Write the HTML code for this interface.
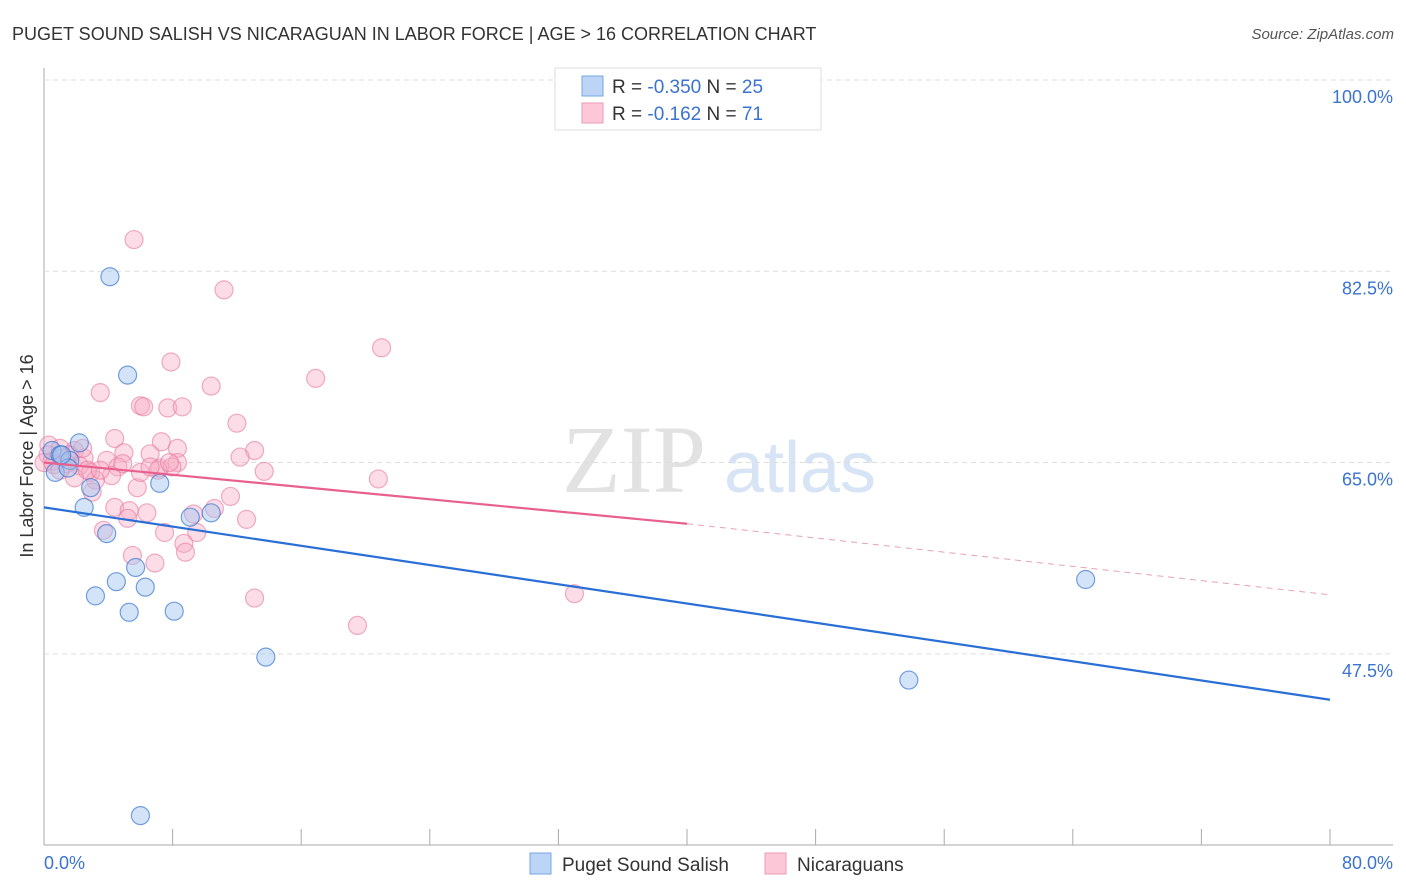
<!DOCTYPE html>
<html><head><meta charset="utf-8"><style>
body{margin:0;background:#fff;font-family:"Liberation Sans",sans-serif}
</style></head><body>
<svg id="c" width="1406" height="892" style="display:block">
<text x="12" y="40" font-size="18" fill="#333">PUGET SOUND SALISH VS NICARAGUAN IN LABOR FORCE | AGE &gt; 16 CORRELATION CHART</text>
<text x="1394" y="39" font-size="15" fill="#555" font-style="italic" text-anchor="end">Source: ZipAtlas.com</text>
<text x="634" y="492" font-size="96" fill="#e2e2e2" font-family="Liberation Serif,serif" text-anchor="middle">ZIP</text>
<text x="800" y="492" font-size="72" fill="#d6e4f5" text-anchor="middle">atlas</text>
<g id="grid"></g><g id="marks"></g>
<text transform="translate(33,456) rotate(-90)" font-size="18" fill="#333" text-anchor="middle">In Labor Force | Age &gt; 16</text>
<text x="44" y="869" font-size="18" fill="#3a73d0">0.0%</text>
<text x="1393" y="869" font-size="18" fill="#3a73d0" text-anchor="end">80.0%</text>
<g>
<rect x="555" y="68" width="266" height="62" fill="#fff" stroke="#ddd"/>
<rect x="582" y="76" width="21" height="20" fill="#bcd4f5" stroke="#7aa6e6"/>
<rect x="582" y="103" width="21" height="20" fill="#fcc8d8" stroke="#ee9ab5"/>
<text x="612" y="93" font-size="19" fill="#333">R = <tspan fill="#3a73d0">-0.350</tspan>   N = <tspan fill="#3a73d0">25</tspan></text>
<text x="612" y="120" font-size="19" fill="#333">R =  <tspan fill="#3a73d0"> -0.162</tspan>   N = <tspan fill="#3a73d0"> 71</tspan></text>
</g>
<g>
<rect x="530" y="853" width="21" height="21" fill="#bcd4f5" stroke="#7aa6e6"/>
<text x="562" y="871" font-size="19" fill="#333">Puget Sound Salish</text>
<rect x="765" y="853" width="21" height="21" fill="#fcc8d8" stroke="#ee9ab5"/>
<text x="797" y="871" font-size="19" fill="#333">Nicaraguans</text>
</g>
</svg>
<script>
const yTicks=[100,82.5,65,47.5];
const yTickLabels=["100.0%","82.5%","65.0%","47.5%"];
const xTicks=[0,8,16,24,32,40,48,56,64,72,80];
const blueX=[4.1,5.2,2.2,0.5,1.0,1.6,0.7,1.5,2.9,7.2,2.5,3.9,9.1,10.4,4.5,5.7,6.3,3.2,5.3,8.1,13.8,6.0,53.8,64.8,1.1];
const blueY=[82.0,73.0,66.8,66.1,65.7,65.2,64.1,64.5,62.7,63.1,60.9,58.5,60.0,60.4,54.1,55.4,53.6,52.8,51.3,51.4,47.2,32.7,45.1,54.3,65.7];
const pinkX=[5.6,11.2,21.0,7.9,16.9,10.4,3.5,6.0,6.2,7.7,8.6,12.0,4.4,7.3,8.3,13.1,6.6,12.2,4.97,3.9,8.3,7.2,4.6,13.7,20.8,0.3,1.0,1.9,0.25,1.6,2.5,0.5,1.1,2.2,2.9,4.2,3.2,1.9,5.8,11.6,4.4,5.3,6.4,9.3,10.6,12.6,5.2,3.7,7.5,9.5,8.7,5.5,6.9,8.8,13.1,33.0,19.5,6.0,7.96,2.7,1.4,0.6,3.5,7.1,0.0,2.4,3.0,7.8,6.6,1.0,4.9];
const pinkY=[85.4,80.8,75.5,74.2,72.7,72.0,71.4,70.2,70.1,70.0,70.1,68.6,67.2,66.9,66.3,66.1,65.8,65.5,65.9,65.2,65.0,64.5,64.6,64.2,63.5,66.6,66.3,66.1,65.7,65.7,65.4,65.1,65.4,64.7,64.1,63.8,63.4,63.6,62.7,61.9,60.9,60.6,60.4,60.3,60.8,59.8,59.9,58.8,58.6,58.6,57.6,56.5,55.8,56.8,52.6,53.0,50.1,64.1,64.6,64.3,64.9,64.8,64.3,64.3,65.0,66.3,62.3,65.0,64.6,64.3,64.9];
const blueTrend=[[0,60.9],[80,43.3]];
const pinkTrendSolid=[[0,65.0],[40,59.4]];
const pinkTrendDash=[[40,59.4],[80,52.9]];
const X=v=>44+v*16.075, Y=v=>80+(100-v)*10.93;
const NS="http://www.w3.org/2000/svg";
function mk(tag,attrs,parent){const e=document.createElementNS(NS,tag);for(const k in attrs)e.setAttribute(k,attrs[k]);parent.appendChild(e);return e;}
const grid=document.getElementById('grid'), marks=document.getElementById('marks');
let ax=mk('line',{x1:44,y1:68,x2:44,y2:845,stroke:'#aaa'},grid);

let bx=mk('line',{x1:44,y1:845,x2:1393,y2:845,stroke:'#aaa'},grid);

yTicks.forEach((t,i)=>{
 const g=mk('line',{x1:44,y1:Y(t),x2:1393,y2:Y(t),stroke:'#ddd','stroke-dasharray':'5,4'},grid);
 
 const l=mk('text',{x:1393,y:Y(t)+23,'font-size':18,fill:'#3a73d0','text-anchor':'end'},grid);
 l.textContent=yTickLabels[i];
 
});
xTicks.forEach(t=>{
 const m=mk('line',{x1:X(t),y1:829,x2:X(t),y2:845,stroke:'#aaa'},grid);
 
});
function pts(xs,ys,fill,stroke,name){xs.forEach((x,i)=>{
 const c=mk('circle',{cx:X(x),cy:Y(ys[i]),r:9,fill:fill,stroke:stroke,'stroke-width':1.2},marks);
 });}
pts(pinkX,pinkY,'rgba(248,170,196,0.4)','rgba(230,120,160,0.6)','nicaraguan-point');
pts(blueX,blueY,'rgba(160,195,240,0.45)','rgba(60,120,210,0.7)','puget-point');
function ln(p,stroke,w,dash,name){const l=mk('line',{x1:X(p[0][0]),y1:Y(p[0][1]),x2:X(p[1][0]),y2:Y(p[1][1]),stroke:stroke,'stroke-width':w},marks);
 if(dash)l.setAttribute('stroke-dasharray',dash);
 }
ln(blueTrend,'#2a6fd6',2.2,null,'puget-trend-line');
ln(pinkTrendSolid,'#e8608e',2.2,null,'nicaraguan-trend-line');
ln(pinkTrendDash,'#e8a0b8',1,'6,5','nicaraguan-trend-extension');
</script>
</body></html>
